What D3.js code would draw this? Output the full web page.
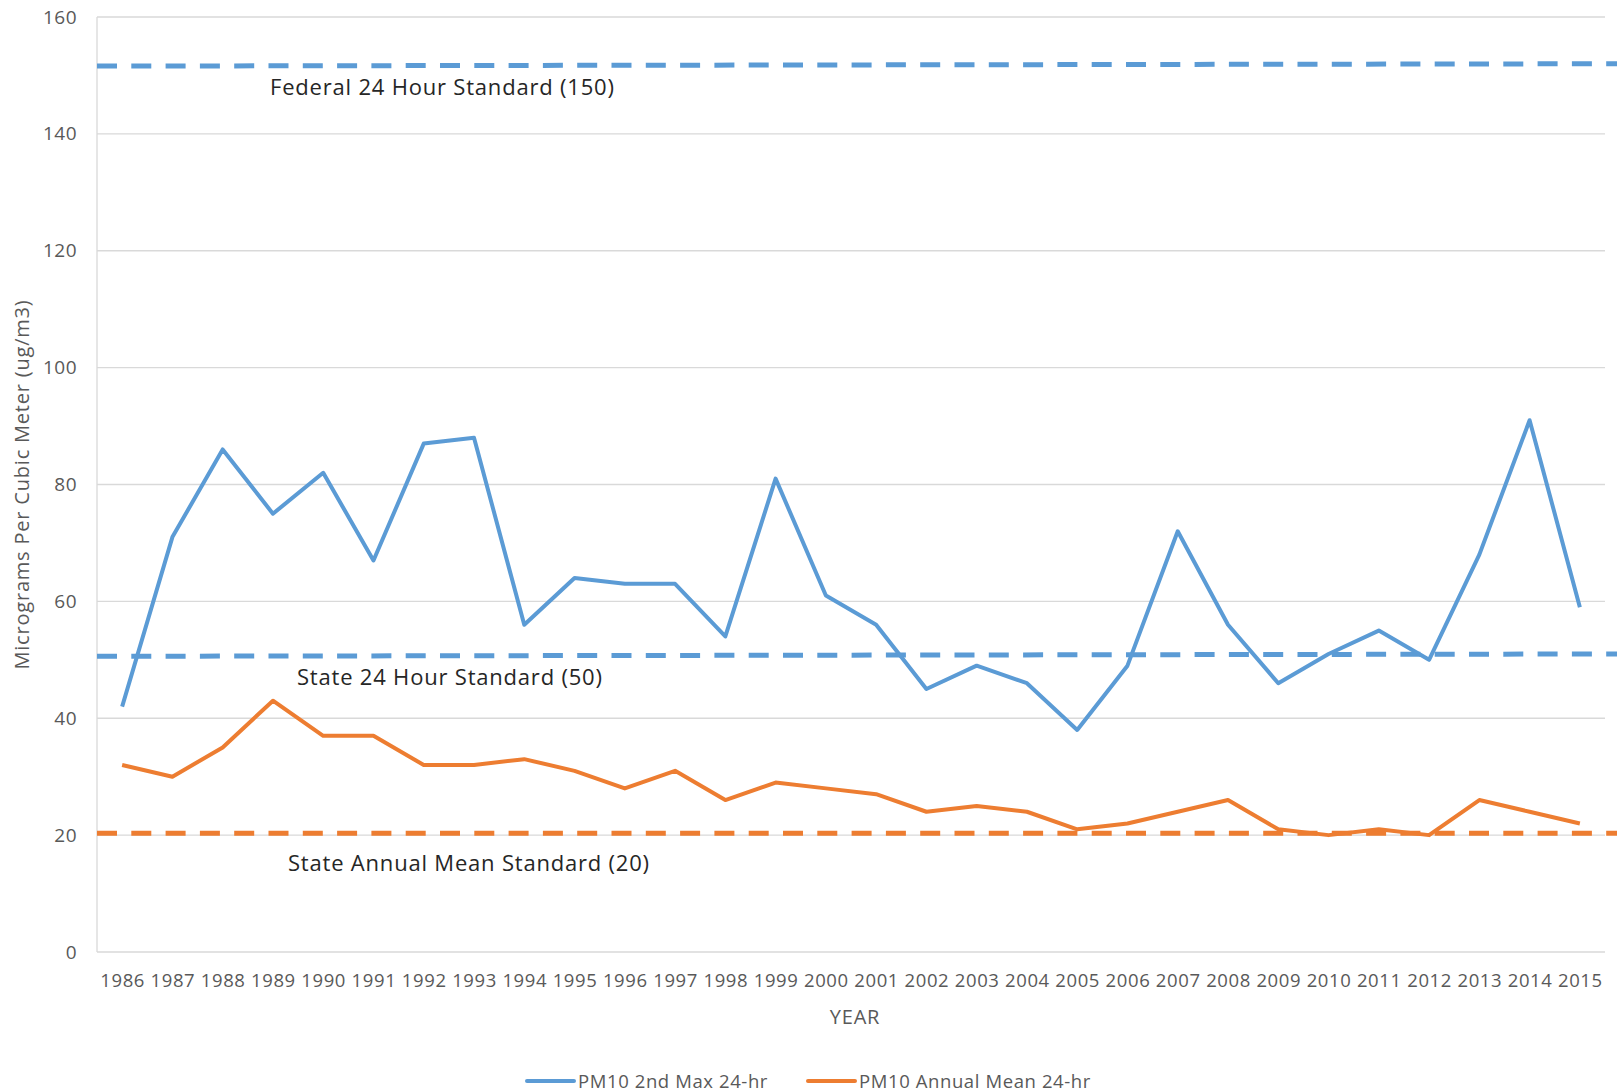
<!DOCTYPE html>
<html>
<head>
<meta charset="utf-8">
<script src="https://cdn.jsdelivr.net/npm/d3@7"></script>
<style>
  body { margin: 0; background: #fff; }
  svg { display: block; font-family: "Open Sans", "Noto Sans", sans-serif; }
</style>
</head>
<body>
<svg id="chart"></svg>
<script>
// Years on the x axis
const years = d3.range(1986, 2016).map(String);

// PM10 series
const maxValues = [42, 71, 86, 75, 82, 67, 87, 88, 56, 64, 63, 63, 54, 81, 61,
                   56, 45, 49, 46, 38, 49, 72, 56, 46, 51, 55, 50, 68, 91, 59];
const meanValues = [32, 30, 35, 43, 37, 37, 32, 32, 33, 31, 28, 31, 26, 29, 28,
                    27, 24, 25, 24, 21, 22, 24, 26, 21, 20, 21, 20, 26, 24, 22];

// Standard lines (level drawn at left and right end)
const stdNames = ["Federal 24 Hour Standard (150)", "State 24 Hour Standard (50)", "State Annual Mean Standard (20)"];
const stdStart = [151.6, 50.6, 20.3];
const stdEnd = [152.0, 51.0, 20.3];

const yTicks = [0, 20, 40, 60, 80, 100, 120, 140, 160];
const seriesNames = ["PM10 2nd Max 24-hr", "PM10 Annual Mean 24-hr"];

const width = 1617, height = 1092;
const margin = {top: 17, right: 12, bottom: 140, left: 97};
const blue = "#5b9bd5", orange = "#ed7d31";

const svg = d3.select("#chart")
    .attr("width", width)
    .attr("height", height);

const x = d3.scalePoint()
    .domain(years)
    .range([margin.left, width - margin.right])
    .padding(0.5);

const y = d3.scaleLinear()
    .domain([0, 160])
    .range([height - margin.bottom, margin.top]);

// gridlines
svg.append("g")
  .selectAll("line")
  .data(yTicks)
  .join("line")
    .attr("x1", margin.left)
    .attr("x2", width - margin.right)
    .attr("y1", d => y(d))
    .attr("y2", d => y(d))
    .attr("stroke", "#d9d9d9")
    .attr("stroke-width", 1.3);

// left axis line
svg.append("line")
    .attr("x1", margin.left).attr("x2", margin.left)
    .attr("y1", y(160)).attr("y2", y(0))
    .attr("stroke", "#d9d9d9")
    .attr("stroke-width", 1.3);

// y axis
const yAxis = svg.append("g")
    .attr("transform", `translate(${margin.left - 17},0)`)
    .call(d3.axisLeft(y).tickValues(yTicks).tickSize(0));
yAxis.select(".domain").remove();
yAxis.selectAll("text")
    .attr("font-size", 19)
    .attr("letter-spacing", 0.5)
    .attr("font-family", "Open Sans, sans-serif")
    .attr("fill", "#595959");

// x axis
const xAxis = svg.append("g")
    .attr("transform", `translate(0,${y(0) + 19})`)
    .call(d3.axisBottom(x).tickSize(0));
xAxis.select(".domain").remove();
xAxis.selectAll("text")
    .attr("font-size", 18.5)
    .attr("letter-spacing", 0.6)
    .attr("font-family", "Open Sans, sans-serif")
    .attr("fill", "#595959");

// axis titles
svg.append("text")
    .attr("transform", `translate(29,${(y(0) + y(160)) / 2}) rotate(-90)`)
    .attr("text-anchor", "middle")
    .attr("font-size", 20)
    .attr("letter-spacing", 0.8)
    .attr("fill", "#595959")
    .text("Micrograms Per Cubic Meter (ug/m3)");

svg.append("text")
    .attr("x", 855)
    .attr("y", 1024)
    .attr("text-anchor", "middle")
    .attr("font-size", 20)
    .attr("letter-spacing", 0.8)
    .attr("fill", "#595959")
    .text("YEAR");

// standard lines
const stdColors = [blue, blue, orange];
const stdLabelX = [270, 297, 288];
const stdLabelDy = [29, 29, 38];
svg.append("g")
  .selectAll("line")
  .data(stdNames)
  .join("line")
    .attr("x1", margin.left)
    .attr("x2", width)
    .attr("y1", (d, i) => y(stdStart[i]))
    .attr("y2", (d, i) => y(stdEnd[i]))
    .attr("stroke", (d, i) => stdColors[i])
    .attr("stroke-width", 5)
    .attr("stroke-dasharray", "20 14.3");

svg.append("g")
  .selectAll("text")
  .data(stdNames)
  .join("text")
    .attr("x", (d, i) => stdLabelX[i])
    .attr("y", (d, i) => y(stdStart[i]) + stdLabelDy[i])
    .attr("font-size", 22)
    .attr("letter-spacing", 0.8)
    .attr("fill", "#262626")
    .text(d => d);

// series lines
const line = d3.line()
    .x((d, i) => x(years[i]))
    .y(d => y(d));

svg.append("path")
    .datum(maxValues)
    .attr("fill", "none")
    .attr("stroke", blue)
    .attr("stroke-width", 4)
    .attr("stroke-linejoin", "round")
    .attr("d", line);

svg.append("path")
    .datum(meanValues)
    .attr("fill", "none")
    .attr("stroke", orange)
    .attr("stroke-width", 4)
    .attr("stroke-linejoin", "round")
    .attr("d", line);

// legend
const legendX = [527, 808];
const legend = svg.append("g")
  .selectAll("g")
  .data(seriesNames)
  .join("g")
    .attr("transform", (d, i) => `translate(${legendX[i]},1081)`);

legend.append("line")
    .attr("x1", 0).attr("x2", 47)
    .attr("stroke", (d, i) => [blue, orange][i])
    .attr("stroke-width", 4)
    .attr("stroke-linecap", "round");

legend.append("text")
    .attr("x", 51)
    .attr("y", 6.5)
    .attr("font-size", 18.5)
    .attr("letter-spacing", 0.6)
    .attr("fill", "#595959")
    .text(d => d);
</script>
</body>
</html>
